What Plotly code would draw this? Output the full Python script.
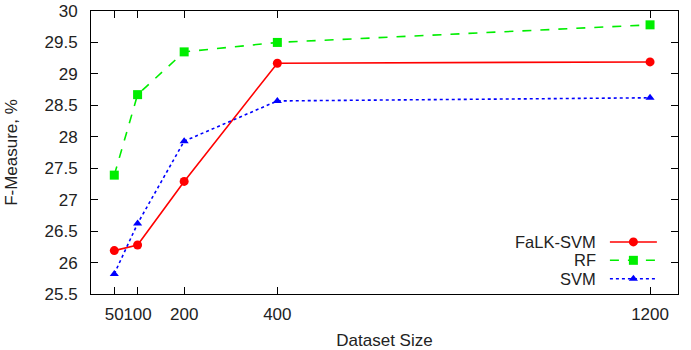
import plotly.graph_objects as go

sizes = [50, 100, 200, 400, 1200]
falk_svm = [26.19, 26.28, 27.29, 29.17, 29.19]
rf = [27.39, 28.67, 29.35, 29.50, 29.78]
svm = [25.82, 26.62, 27.93, 28.57, 28.62]
x_ticks = [50, 100, 200, 400, 1200]
y_ticks = [25.5, 26, 26.5, 27, 27.5, 28, 28.5, 29, 29.5, 30]
series_names = ["FaLK-SVM", "RF", "SVM"]

styles = [
    dict(color="#ff0000", dash="solid", symbol="circle", size=9),
    dict(color="#00ee00", dash="dash", symbol="square", size=9),
    dict(color="#0000ff", dash="dot", symbol="triangle-up", size=8),
]

FONT = "Liberation Sans, Arial, sans-serif"

fig = go.Figure()
for name, vals, st in zip(series_names, [falk_svm, rf, svm], styles):
    fig.add_trace(go.Scatter(
        x=sizes, y=vals, mode="lines+markers", name=name, showlegend=False,
        line=dict(color=st["color"], dash=st["dash"], width=1.6),
        marker=dict(color=st["color"], symbol=st["symbol"], size=st["size"]),
    ))

# custom legend (samples to the right of the labels, as in the original)
leg_y = [0.184, 0.119, 0.054]
for name, st, yy in zip(series_names, styles, leg_y):
    fig.add_trace(go.Scatter(
        x=[0.884, 0.964], y=[yy, yy], mode="lines", xaxis="x2", yaxis="y2",
        showlegend=False, hoverinfo="skip",
        line=dict(color=st["color"], dash=st["dash"], width=1.6),
    ))
    fig.add_trace(go.Scatter(
        x=[0.924], y=[yy], mode="markers", xaxis="x2", yaxis="y2",
        showlegend=False, hoverinfo="skip",
        marker=dict(color=st["color"], symbol=st["symbol"], size=st["size"]),
    ))
    fig.add_annotation(
        x=0.862, y=yy, xref="paper", yref="paper", text=name,
        showarrow=False, xanchor="right", yanchor="middle",
        font=dict(family=FONT, size=16.5, color="#222222"),
        borderpad=0,
    )

axis_common = dict(
    showgrid=False, zeroline=False, showline=True, linecolor="black",
    linewidth=1, mirror="ticks", ticks="inside", ticklen=7,
    tickcolor="black", tickwidth=1, automargin=False,
    tickfont=dict(family=FONT, size=17, color="#222222"),
)

fig.update_layout(
    width=691, height=350,
    margin=dict(l=90.5, r=13, t=11, b=56),
    plot_bgcolor="white", paper_bgcolor="white",
    font=dict(family=FONT, size=17, color="#222222"),
    xaxis=dict(
        range=[0, 1260], tickvals=x_ticks, ticktext=[str(v) for v in x_ticks],
        tickangle=0, ticklabelstandoff=5,
        title=dict(text="Dataset Size", standoff=10, font=dict(size=17)),
        **axis_common,
    ),
    yaxis=dict(
        range=[25.5, 30], tickvals=y_ticks, ticktext=[f"{v:g}" for v in y_ticks],
        ticklabelstandoff=9,
        title=dict(text="F-Measure, %", standoff=22, font=dict(size=17)),
        **axis_common,
    ),
    xaxis2=dict(overlaying="x", range=[0, 1], visible=False, fixedrange=True),
    yaxis2=dict(overlaying="y", range=[0, 1], visible=False, fixedrange=True),
)

fig.write_html("out.html")
